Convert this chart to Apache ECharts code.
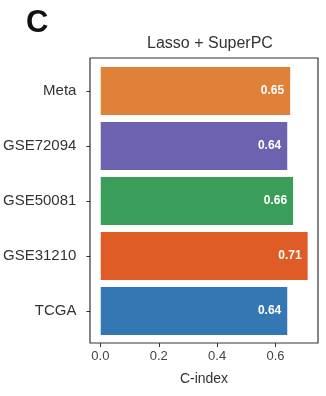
<!DOCTYPE html>
<html>
<head>
<meta charset="utf-8">
<script src="https://cdn.jsdelivr.net/npm/echarts@6/dist/echarts.min.js"></script>
<style>
html,body{margin:0;padding:0;background:#fff;}
#chart{width:326px;height:396px;}
</style>
</head>
<body>
<div id="chart"></div>
<script>
// Data (top-to-bottom order as shown)
const categories = ['Meta', 'GSE72094', 'GSE50081', 'GSE31210', 'TCGA'];
const cindex = [0.65, 0.64, 0.66, 0.71, 0.64];
const barColors = ['#DF8139', '#6B63AF', '#3A9E5A', '#DF5C26', '#3478B3'];
const xTicks = [0.0, 0.2, 0.4, 0.6];
const titleText = 'Lasso + SuperPC';
const panelLetter = 'C';
const xName = 'C-index';

const FONT = '"Liberation Sans", Arial, Helvetica, sans-serif';
const xMin = -0.0355, xMax = 0.7455;

const chart = echarts.init(document.getElementById('chart'), null, {renderer: 'canvas'});
chart.setOption({
  animation: false,
  backgroundColor: '#fff',
  textStyle: {fontFamily: FONT},
  title: [
    {text: panelLetter, left: 21, top: 3,
     textStyle: {fontSize: 31, fontWeight: 900, color: '#111', fontFamily: FONT}},
    {text: titleText, left: 205, top: 31, textAlign: 'center',
     textStyle: {fontSize: 16, fontWeight: 'normal', color: '#333', fontFamily: FONT}}
  ],
  grid: [
    {left: 90, top: 58, width: 228, height: 285, show: true,
     borderColor: '#333', borderWidth: 1.2, backgroundColor: 'transparent'},
    {left: 90, top: 63.5, width: 228, height: 275, show: false}
  ],
  xAxis: [
    {type: 'value', gridIndex: 0, min: xMin, max: xMax,
     axisLine: {show: false, onZero: false},
     axisTick: {show: true, length: 4, customValues: xTicks, lineStyle: {color: '#333'}},
     axisLabel: {customValues: xTicks, formatter: v => v.toFixed(1),
                 fontSize: 13, color: '#444', margin: 7, fontFamily: FONT},
     splitLine: {show: false},
     name: xName, nameLocation: 'middle', nameGap: 29,
     nameTextStyle: {fontSize: 14, color: '#333', fontFamily: FONT}},
    {type: 'value', gridIndex: 1, min: xMin, max: xMax, show: false}
  ],
  yAxis: [
    {type: 'value', gridIndex: 0, show: false},
    {type: 'category', gridIndex: 1, data: categories, inverse: true,
     axisLine: {show: false, onZero: false},
     axisTick: {show: true, length: 4, alignWithLabel: true, lineStyle: {color: '#333'}},
     axisLabel: {fontSize: 15, color: '#333', margin: 14, fontFamily: FONT},
     splitLine: {show: false}}
  ],
  series: [{
    type: 'bar',
    xAxisIndex: 1, yAxisIndex: 1,
    barWidth: 48,
    data: cindex.map((v, i) => ({value: v, itemStyle: {color: barColors[i]}})),
    label: {show: true, position: 'insideRight', distance: 6,
            color: '#fff', fontWeight: 'bold', fontSize: 12, fontFamily: FONT,
            formatter: p => p.value.toFixed(2)}
  }]
});
</script>
</body>
</html>
